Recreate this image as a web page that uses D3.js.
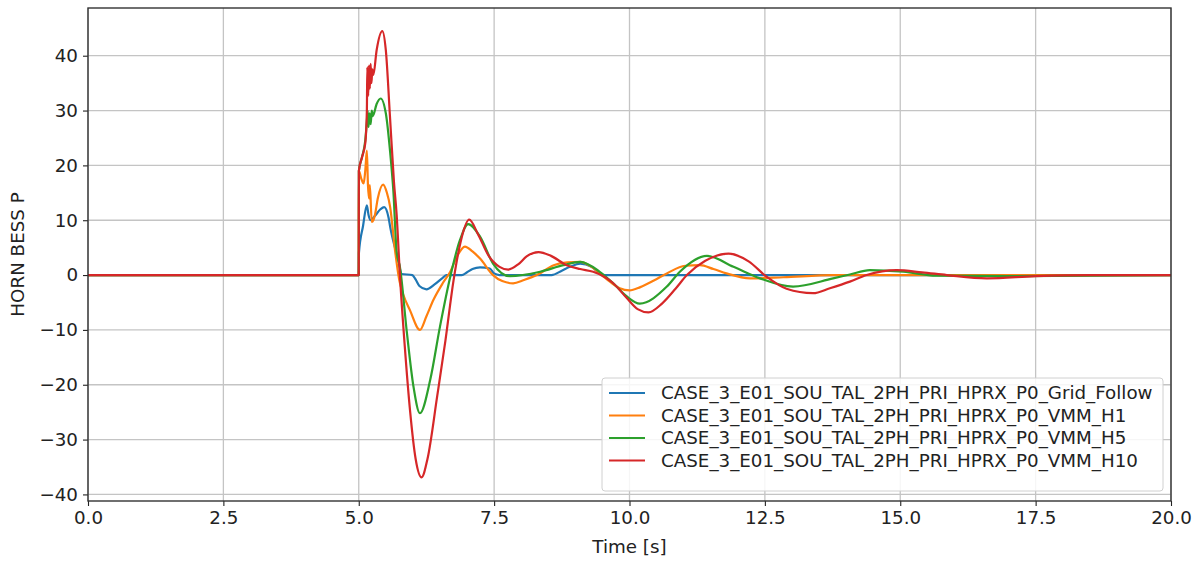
<!DOCTYPE html>
<html><head><meta charset="utf-8">
<script src="https://cdn.jsdelivr.net/npm/d3@7"></script>
<style>body{margin:0;background:#fff;} text{font-family:"DejaVu Sans",sans-serif;}</style>
</head><body><svg id="c" width="1203" height="563"></svg>
<script>
const seriesNames = [
  "CASE_3_E01_SOU_TAL_2PH_PRI_HPRX_P0_Grid_Follow",
  "CASE_3_E01_SOU_TAL_2PH_PRI_HPRX_P0_VMM_H1",
  "CASE_3_E01_SOU_TAL_2PH_PRI_HPRX_P0_VMM_H5",
  "CASE_3_E01_SOU_TAL_2PH_PRI_HPRX_P0_VMM_H10"
];
const colors = ["#1f77b4", "#ff7f0e", "#2ca02c", "#d62728"];
const xTicks = [0, 2.5, 5, 7.5, 10, 12.5, 15, 17.5, 20];
const yTicks = [-40, -30, -20, -10, 0, 10, 20, 30, 40];

const tBlue = [0, 5.0, 5.003, 5.08, 5.15, 5.18, 5.22, 5.3, 5.4, 5.47, 5.55, 5.58, 5.73, 5.79, 5.99, 6.05, 6.12, 6.25, 6.4, 6.55, 6.62, 6.9, 7.0, 7.1, 7.24, 7.42, 7.5, 7.6, 8.56, 8.75, 8.9, 9.09, 9.3, 9.45, 9.55, 20];
const vBlue = [0, 0, 4, 9, 12.7, 11, 10, 10.8, 12, 12.4, 10.5, 8.8, 2.7, 0.2, 0, -0.8, -2, -2.6, -1.7, -0.5, 0, 0, 0.5, 1.1, 1.4, 1.2, 0.3, 0, 0, 0.8, 1.5, 2.1, 1.5, 0.3, 0, 0];

const tOrange = [0, 5.0, 5.002, 5.05, 5.09, 5.12, 5.15, 5.17, 5.19, 5.205, 5.24, 5.27, 5.3, 5.35, 5.45, 5.52, 5.58, 5.67, 5.75, 5.82, 5.945, 6.13, 6.25, 6.38, 6.55, 6.69, 6.82, 6.96, 7.1, 7.24, 7.48, 7.65, 7.85, 8.05, 8.29, 8.6, 8.85, 9.09, 9.3, 9.45, 9.65, 9.82, 10.0, 10.2, 10.45, 10.69, 11.03, 11.3, 11.55, 11.79, 12.23, 12.84, 13.76, 20];
const vOrange = [0, 0, 19, 17.5, 16.7, 19, 22.7, 16.4, 14, 16.4, 9.7, 10, 11, 13.9, 16.5, 15, 12.4, 4.5, -1, -3.5, -6.4, -10, -7.5, -4.5, -1.5, 0.6, 3.5, 5.2, 4.3, 3.0, 0, -1.1, -1.5, -0.9, 0, 1.8, 2.3, 2.4, 1.5, 0.3, -1.3, -2.4, -2.8, -2.2, -1, 0.3, 1.7, 1.8, 1.1, 0.3, -0.6, -0.4, 0, 0];

const tGreen = [0, 5.0, 5.002, 5.06, 5.12, 5.15, 5.165, 5.18, 5.2, 5.22, 5.24, 5.26, 5.33, 5.405, 5.5, 5.58, 5.64, 5.70, 5.76, 5.89, 6.01, 6.13, 6.32, 6.5, 6.69, 6.87, 7.02, 7.24, 7.48, 7.79, 8.35, 8.78, 9.09, 9.45, 9.70, 9.95, 10.19, 10.69, 10.93, 11.43, 11.92, 12.41, 13.02, 13.76, 14.07, 14.44, 15.06, 15.67, 17.0, 20];
const vGreen = [0, 0, 19, 21.5, 24.5, 28, 30, 27, 29.5, 27.5, 30, 29, 31.2, 32.2, 29.5, 22.4, 15.2, 4.2, 1.5, -10.6, -20.3, -25.2, -19.1, -9.4, -0.3, 6.4, 9.3, 7.0, 2.1, -0.2, 0.6, 1.8, 2.4, 0.6, -1.5, -3.9, -5.2, -2.1, 0.6, 3.5, 1.5, -0.6, -2.1, -0.6, 0.1, 0.9, 0.6, -0.1, -0.2, 0];

const tRed = [0, 5.0, 5.002, 5.06, 5.12, 5.15, 5.158, 5.175, 5.19, 5.205, 5.22, 5.235, 5.25, 5.27, 5.33, 5.435, 5.5, 5.576, 5.65, 5.70, 5.76, 5.85, 5.95, 6.05, 6.16, 6.27, 6.45, 6.6, 6.75, 6.88, 7.04, 7.2, 7.4, 7.6, 7.76, 7.95, 8.1, 8.32, 8.55, 8.84, 9.09, 9.33, 9.55, 9.7, 9.95, 10.15, 10.35, 10.6, 10.85, 11.06, 11.4, 11.83, 12.2, 12.53, 12.9, 13.39, 13.7, 14.07, 14.38, 14.93, 15.4, 15.86, 16.6, 17.5, 18.5, 20];
const vRed = [0, 0, 19, 21.5, 24, 30, 37.9, 32.7, 38.2, 34, 38.5, 35, 37.5, 36.5, 41, 44.5, 41, 29, 17, 11, 0, -13, -25, -33.5, -36.9, -33.5, -22, -12, -1, 6, 10.1, 7.5, 3.5, 1.5, 1.0, 2.0, 3.4, 4.2, 3.5, 1.8, 1.1, 0.6, -0.4, -1.5, -4.2, -6.2, -6.8, -5.2, -2.5, 0, 2.6, 3.9, 2.5, -0.3, -2.5, -3.3, -2.4, -1.2, 0, 0.9, 0.5, 0, -0.6, -0.2, 0, 0];

const seriesT = [tBlue, tOrange, tGreen, tRed];
const seriesV = [vBlue, vOrange, vGreen, vRed];

const L = 88, R = 1171, T = 8, B = 501;
const svg = d3.select("#c");
const x = d3.scaleLinear().domain([0, 20]).range([L, R]);
const y = d3.scaleLinear().domain([-41.2, 48.7]).range([B, T]);

// measure font size from legend width
const probe = svg.append("text").attr("font-size", 15).text(seriesNames[0]);
const fs = 15 * 492 / probe.node().getComputedTextLength();
probe.remove();

// grid
const g = svg.append("g");
g.selectAll("line.vx").data(xTicks).enter().append("line")
  .attr("x1", d => x(d)).attr("x2", d => x(d)).attr("y1", T).attr("y2", B)
  .attr("stroke", "#c4c4c4").attr("stroke-width", 1.3);
g.selectAll("line.hy").data(yTicks).enter().append("line")
  .attr("y1", d => y(d)).attr("y2", d => y(d)).attr("x1", L).attr("x2", R)
  .attr("stroke", "#c4c4c4").attr("stroke-width", 1.3);

// clip
svg.append("clipPath").attr("id", "clip").append("rect")
  .attr("x", L).attr("y", T).attr("width", R - L).attr("height", B - T);

const line = d3.line().x(d => x(d[0])).y(d => y(d[1])).curve(d3.curveMonotoneX);
const lg = svg.append("g").attr("clip-path", "url(#clip)");
seriesT.forEach((ts, i) => {
  const pts = ts.map((t, j) => [t, seriesV[i][j]]);
  lg.append("path").attr("d", line(pts)).attr("fill", "none")
    .attr("stroke", colors[i]).attr("stroke-width", 2.2)
    .attr("stroke-linejoin", "round").attr("stroke-linecap", "square");
});

// axes
const fmtY = d => (d < 0 ? "\u2212" + Math.abs(d) : "" + d);
const xAxis = d3.axisBottom(x).tickValues(xTicks).tickFormat(d3.format(".1f")).tickSizeOuter(0).tickSize(5).tickPadding(5);
const yAxis = d3.axisLeft(y).tickValues(yTicks).tickFormat(fmtY).tickSizeOuter(0).tickSize(5).tickPadding(5);
const xa = svg.append("g").attr("transform", `translate(0,${B})`).call(xAxis);
const ya = svg.append("g").attr("transform", `translate(${L},0)`).call(yAxis);
[xa, ya].forEach(a => {
  a.select(".domain").remove();
  a.selectAll("text").attr("font-size", fs).attr("fill", "#222").attr("font-family", "DejaVu Sans");
  a.selectAll("line").attr("stroke", "#222").attr("stroke-width", 1.1);
});
// frame
svg.append("rect").attr("x", L).attr("y", T).attr("width", R - L).attr("height", B - T)
  .attr("fill", "none").attr("stroke", "#333").attr("stroke-width", 1.4);

// labels
svg.append("text").attr("x", (L + R) / 2).attr("y", 553).attr("text-anchor", "middle")
  .attr("font-size", fs).attr("fill", "#222").text("Time [s]");
svg.append("text").attr("transform", `translate(24,${(T + B) / 2}) rotate(-90)`)
  .attr("text-anchor", "middle").attr("font-size", fs).attr("fill", "#222").text("HORN BESS P");

// legend
const leg = svg.append("g");
leg.append("rect").attr("x", 602).attr("y", 378).attr("width", 561).attr("height", 113)
  .attr("rx", 3).attr("fill", "#fff").attr("fill-opacity", 0.85).attr("stroke", "#d0d0d0");
seriesNames.forEach((n, i) => {
  const yy = 393 + i * 22.5;
  leg.append("line").attr("x1", 609).attr("x2", 645).attr("y1", yy).attr("y2", yy)
    .attr("stroke", colors[i]).attr("stroke-width", 2.2);
  leg.append("text").attr("x", 661).attr("y", yy).attr("dy", "0.35em")
    .attr("font-size", fs).attr("fill", "#222").text(n);
});
</script></body></html>
